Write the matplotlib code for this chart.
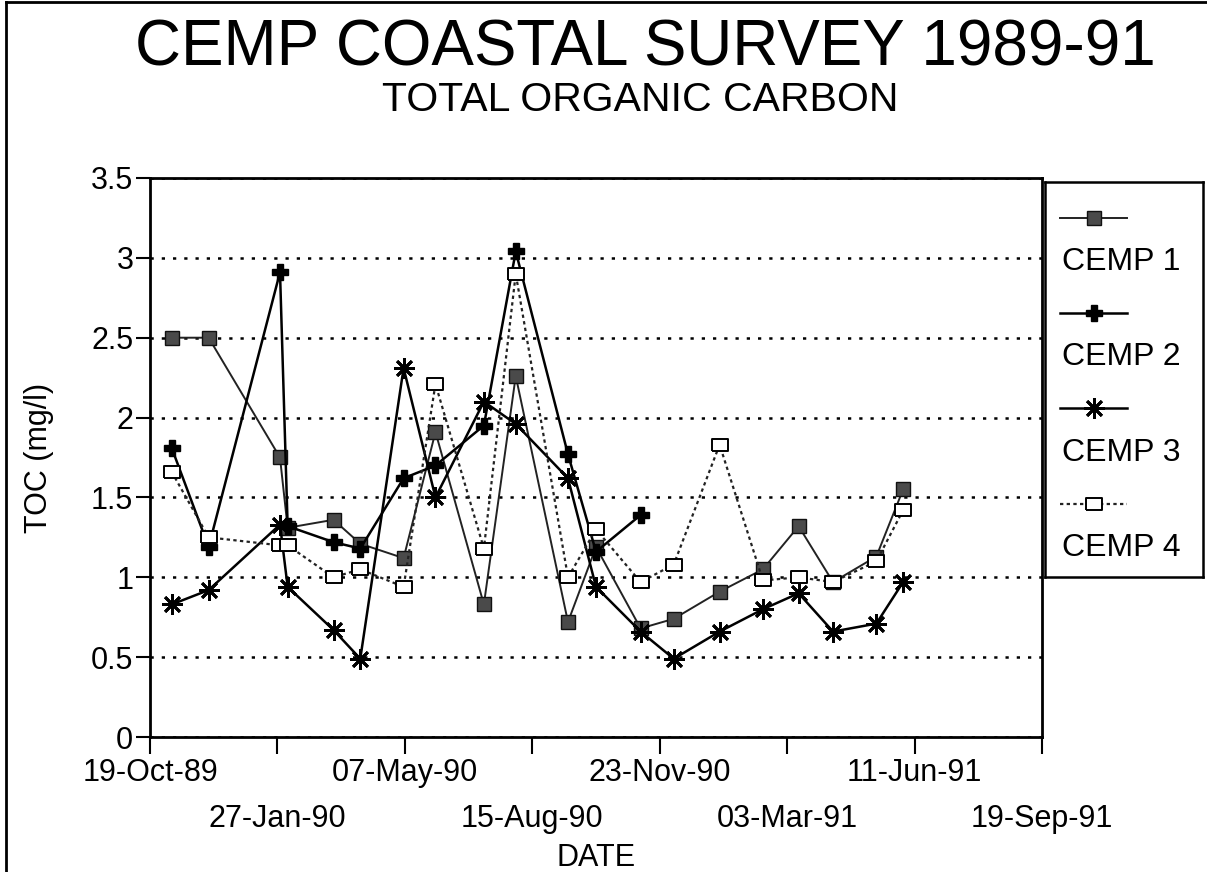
import matplotlib
matplotlib.use("Agg")
import matplotlib.pyplot as plt
import pandas as pd
from matplotlib import font_manager as fm
from matplotlib.lines import Line2D

# narrow face for the headings if the system has it
names = {f.name for f in fm.fontManager.ttflist}
NARROW = "Liberation Sans Narrow" in names
TFONT = "Liberation Sans Narrow" if NARROW else "Liberation Sans"
tscale = 1.0 if NARROW else 0.82
plt.rcParams["font.family"] = ["Liberation Sans", "DejaVu Sans"]

# sampling dates
dates = pd.to_datetime([
    "1989-11-05", "1989-12-04", "1990-01-29", "1990-02-04", "1990-03-12",
    "1990-04-02", "1990-05-06", "1990-05-31", "1990-07-08", "1990-08-02",
    "1990-09-12", "1990-10-04", "1990-11-08", "1990-12-04", "1991-01-09",
    "1991-02-12", "1991-03-12", "1991-04-08", "1991-05-12", "1991-06-02",
])
cemp1 = [2.50, 2.50, 1.75, 1.31, 1.36, 1.21, 1.12, 1.91, 0.83, 2.26,
         0.72, 1.19, 0.68, 0.74, 0.91, 1.05, 1.32, 0.97, 1.13, 1.55]
cemp2 = [1.81, 1.19, 2.91, 1.32, 1.22, 1.18, 1.62, 1.70, 1.95, 3.04,
         1.77, 1.16, 1.39]
cemp3 = [0.83, 0.92, 1.33, 0.94, 0.67, 0.49, 2.31, 1.50, 2.10, 1.96,
         1.62, 0.94, 0.66, 0.49, 0.66, 0.80, 0.90, 0.66, 0.71, 0.97]
cemp4 = [1.66, 1.25, 1.20, 1.20, 1.00, 1.05, 0.94, 2.21, 1.18, 2.90,
         1.00, 1.30, 0.97, 1.08, 1.83, 0.98, 1.00, 0.97, 1.10, 1.42]
series_names = ["CEMP 1", "CEMP 2", "CEMP 3", "CEMP 4"]

tick_dates = pd.to_datetime(["1989-10-19", "1990-01-27", "1990-05-07", "1990-08-15",
                             "1990-11-23", "1991-03-03", "1991-06-11", "1991-09-19"])
tick_labels = ["19-Oct-89", "27-Jan-90", "07-May-90", "15-Aug-90",
               "23-Nov-90", "03-Mar-91", "11-Jun-91", "19-Sep-91"]
yticks = [0, 0.5, 1, 1.5, 2, 2.5, 3, 3.5]
ytick_labels = ["0", "0.5", "1", "1.5", "2", "2.5", "3", "3.5"]

box = [(-1.3, -1), (1.3, -1), (1.3, 1), (-1.3, 1), (-1.3, -1)]
styles = [
    dict(ls="-", lw=1.4, color="#222222", marker="s", ms=10, mfc="#4a4a4a", mec="#111111"),
    dict(ls="-", lw=1.8, color="black", marker="P", ms=12, mfc="black", mec="black"),
    dict(ls="-", lw=1.8, color="black", marker=(8, 2, 0), ms=15, mew=2.0, mec="black"),
    dict(ls=(0, (1.5, 1.5)), lw=1.6, color="#222222", marker=box, ms=11, mfc="white",
         mec="black", mew=1.4),
]

fig = plt.figure(figsize=(12.07, 8.72), dpi=100)
ax = fig.add_axes([0.1243, 0.1548, 0.739, 0.6411])

for (d, v), st in zip([(dates, cemp1), (dates[:len(cemp2)], cemp2),
                       (dates, cemp3), (dates, cemp4)], styles):
    ax.plot(d, v, zorder=3, **st)

ax.set_xlim(tick_dates[0], tick_dates[-1])
ax.set_ylim(0, 3.5)
ax.set_xticks(tick_dates[::2])
ax.set_xticklabels(tick_labels[::2])
ax.set_xticks(tick_dates[1::2], minor=True)
ax.set_xticklabels(tick_labels[1::2], minor=True)
ax.tick_params(axis="x", which="both", length=12, width=1.5, labelsize=22)
ax.tick_params(axis="x", which="major", pad=3)
ax.tick_params(axis="x", which="minor", pad=36)
ax.set_yticks(yticks)
ax.set_yticklabels(ytick_labels)
ax.tick_params(axis="y", length=10, width=1.5, pad=2, labelsize=22)
ax.grid(axis="y", color="black", ls=(0, (1.3, 3.2)), lw=1.8)
ax.set_axisbelow(True)
for s in ax.spines.values():
    s.set_linewidth(2)

ax.set_ylabel("TOC (mg/l)", fontsize=22)
ax.yaxis.set_label_coords(-0.108, 0.5)
ax.set_xlabel("DATE", fontsize=22)
ax.xaxis.set_label_coords(0.5, -0.19)

# legend box: sample line above each label
lax = fig.add_axes([1045 / 1207, 295 / 872, 158 / 1207, 395 / 872])
lax.set_xlim(0, 1)
lax.set_ylim(0, 1)
lax.set_xticks([])
lax.set_yticks([])
for s in lax.spines.values():
    s.set_linewidth(1.8)
for i, (name, st) in enumerate(zip(series_names, styles)):
    yl = 0.909 - i * 0.241
    lax.plot([0.095, 0.52], [yl, yl], ls=st["ls"], lw=st["lw"], color=st["color"])
    mk = {k: st[k] for k in ("marker", "ms", "mfc", "mec", "mew") if k in st}
    lax.plot([0.31], [yl], ls="none", **mk)
    lax.text(0.11, yl - 0.112, name, fontsize=23, ha="left", va="center")

fig.text(645 / 1207, 1 - 48 / 872, "CEMP COASTAL SURVEY 1989-91",
         fontsize=56 * tscale, family=TFONT, ha="center", va="center")
fig.text(640 / 1207, 1 - 100 / 872, "TOTAL ORGANIC CARBON",
         fontsize=36 * tscale, family=TFONT, ha="center", va="center")

# page frame
fig.add_artist(Line2D([6 / 1207, 6 / 1207], [0, 1 - 2 / 872], transform=fig.transFigure,
                      color="black", lw=2))
fig.add_artist(Line2D([6 / 1207, 1], [1 - 2 / 872, 1 - 2 / 872], transform=fig.transFigure,
                      color="black", lw=2))

fig.savefig("out.png", dpi=100)
